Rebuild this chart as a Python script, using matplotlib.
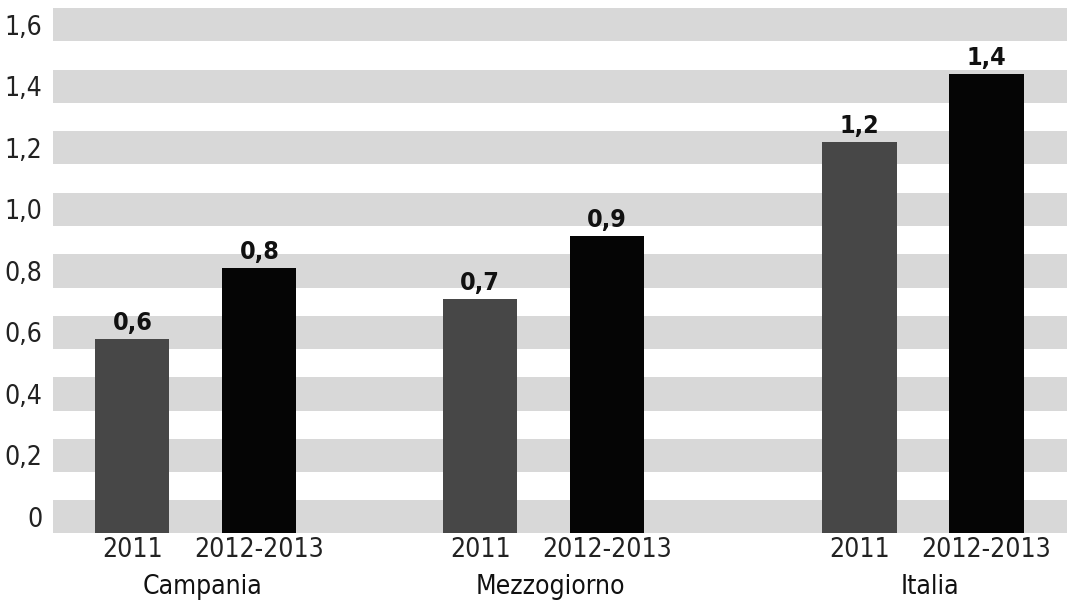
import matplotlib
matplotlib.use('Agg')
import matplotlib.pyplot as plt
import numpy as np

# data
groups = ['Campania', 'Mezzogiorno', 'Italia']
periods = ['2011', '2012-2013']
values_2011 = [0.58, 0.71, 1.22]
values_1213 = [0.81, 0.915, 1.44]
y_ticks = [0, 0.2, 0.4, 0.6, 0.8, 1.0, 1.2, 1.4, 1.6]
y_tick_labels = ['0', '0,2', '0,4', '0,6', '0,8', '1,0', '1,2', '1,4', '1,6']

plt.rcParams['font.family'] = ['DejaVu Sans']
plt.rcParams['font.stretch'] = 'condensed'

fig = plt.figure(figsize=(10.67, 6.06), dpi=100)
ax = fig.add_axes([0.05, 0.1205, 0.95, 0.869])

y_bottom = -0.052
ax.set_ylim(y_bottom, 1.66)
ax.set_xlim(-0.4095, 2.504)

# grey horizontal bands centred on every tick
for t in y_ticks:
    ax.axhspan(t - 0.054, t + 0.054, color='#d8d8d8', lw=0, zorder=0)

group_pos = np.array([0, 1, 2.09])
offset = 0.1825
width = 0.213

x1 = group_pos - offset
x2 = group_pos + offset
v1 = np.array(values_2011)
v2 = np.array(values_1213)
ax.bar(x1, v1 - y_bottom, width, bottom=y_bottom, color='#474747', zorder=2)
ax.bar(x2, v2 - y_bottom, width, bottom=y_bottom, color='#050505', zorder=2)

# value labels
for xs, vs in [(x1, v1), (x2, v2)]:
    for x, v in zip(xs, vs):
        ax.text(x, v + 0.012, f'{v:.1f}'.replace('.', ','), ha='center', va='bottom',
                fontsize=18, fontweight='bold', color='#111111', zorder=3)

ax.set_yticks(y_ticks)
ax.set_yticklabels(y_tick_labels, fontsize=19, color='#222222')
ax.set_xticks(np.concatenate([x1, x2]))
ax.set_xticklabels([periods[0]] * 3 + [periods[1]] * 3, fontsize=19, color='#222222')
ax.tick_params(axis='both', length=0)
ax.tick_params(axis='y', pad=8)
ax.tick_params(axis='x', pad=3)

# group names below the period labels
for gp, name in zip(group_pos, groups):
    ax.text(gp + 0.02, -0.103, name, transform=ax.get_xaxis_transform(),
            ha='center', va='center', fontsize=19, color='#111111')

for s in ax.spines.values():
    s.set_visible(False)

fig.savefig('out.png', dpi=100)
